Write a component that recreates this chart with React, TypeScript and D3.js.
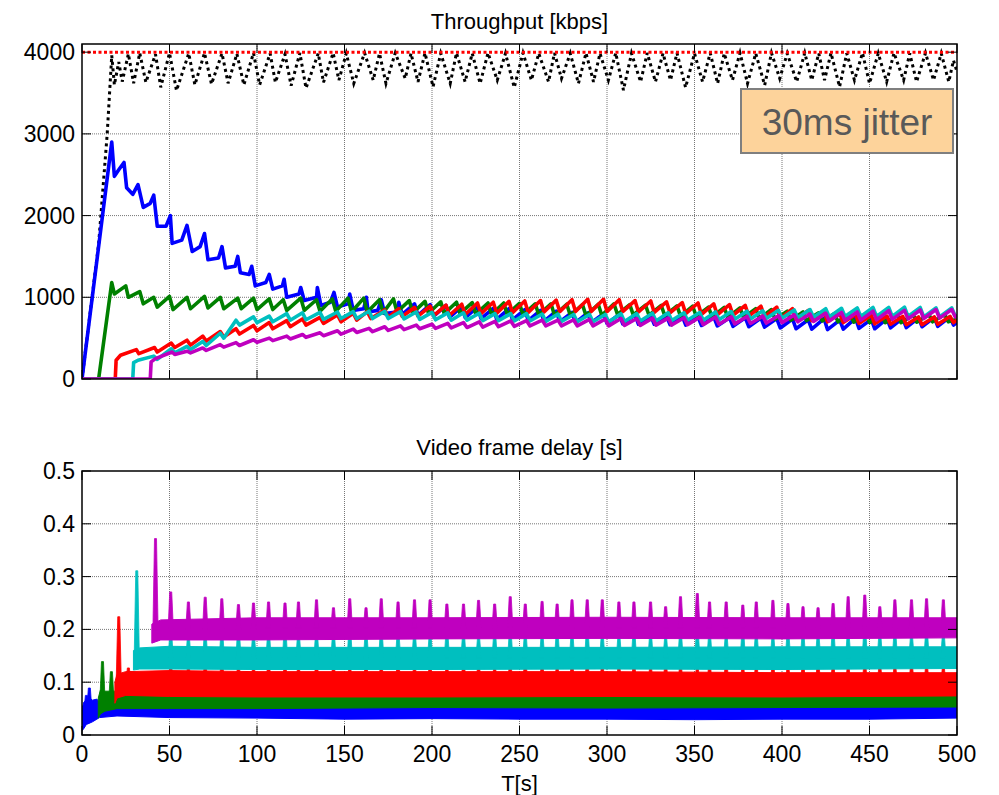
import React from 'react';
import * as d3 from 'd3';

// ---------- axes / ticks ----------
const X_TICKS = [0, 50, 100, 150, 200, 250, 300, 350, 400, 450, 500];
const TOP_Y_TICKS = [0, 1000, 2000, 3000, 4000];
const BOT_Y_TICKS = [0, 0.1, 0.2, 0.3, 0.4, 0.5];
const BOT_Y_LABELS = ['0', '0.1', '0.2', '0.3', '0.4', '0.5'];
const TOP_TITLE = 'Throughput [kbps]';
const BOT_TITLE = 'Video frame delay [s]';
const X_LABEL = 'T[s]';
const NOTE = '30ms jitter';

// ---------- throughput (kbps) : [t, value] ----------
const capacity: [number, number][] = [[0, 4000], [500, 4000]];

const total: [number, number][] = [[0,0],[9.5,1650],[14.4,3000],[17,3960],[18.5,3600],[21,3880],[23,3640],[26.5,3980],[29.5,3620],[33,3990],[36.5,3630],[42,3975],[45,3570],[50,3990],[54,3530],[61,3985],[64.5,3600],[70,3990],[74,3610],[80,3985],[83.5,3620],[88.5,3980],[92.5,3600],[98,3990],[101.5,3600],[107.5,3985],[110.5,3630],[116,3975],[119.5,3590],[124.5,3990],[128,3560],[135,3985],[138,3630],[143.5,3990],[146.8,3657],[151,3985],[155.3,3617],[161.5,3990],[166.4,3657],[170,3985],[173.7,3617],[179,3990],[184.7,3678],[188,3985],[192,3637],[196,3990],[200.6,3576],[205,3985],[210.4,3617],[214,3990],[218.9,3637],[223,3985],[227.5,3617],[232,3990],[237.3,3657],[242,3985],[247,3568],[252,3990],[256.8,3657],[261,3985],[266.6,3637],[270,3990],[274,3678],[279,3985],[283.7,3617],[288,3990],[292.3,3637],[296,3985],[300.8,3657],[305,3990],[309.4,3535],[314,3985],[319.2,3637],[323,3990],[327.7,3637],[332,3985],[336.3,3657],[340,3990],[344.9,3568],[350,3985],[354.6,3637],[359,3990],[363.2,3617],[367,3985],[371.7,3657],[376,3990],[380.3,3617],[385,3985],[390.1,3596],[394,3990],[398.7,3678],[403,3985],[408.4,3637],[413,3990],[417,3657],[421,3985],[424.3,3657],[428,3990],[432.9,3576],[437,3985],[441.4,3657],[446,3990],[450,3617],[455,3985],[459.8,3637],[464,3990],[469.5,3657],[473,3985],[476.9,3637],[482,3990],[486.6,3657],[491,3985],[495.3,3637],[498,3900],[500,3760]];

const blueTp: [number, number][] = [[0,0],[17,2900],[18.5,2480],[21,2560],[24,2650],[25.5,2340],[29,2260],[32,2380],[35,2100],[39,2150],[41,2250],[43,1870],[48,1870],[50.5,2000],[51.5,1660],[57,1700],[60,1880],[63,1560],[67.5,1620],[70,1780],[72,1460],[78,1480],[80,1620],[82,1360],[87.5,1380],[89,1500],[90.5,1300],[95.5,1280],[97,1380],[99,1140],[105,1180],[107,1280],[109,1100],[114.5,1140],[115.5,1220],[117,1000],[124,1040],[125,1120],[127,960],[134,1000],[134.5,1120],[136.5,900],[142,940],[144,1060],[146,880],[152,920],[153,1040],[155,840],[161,860],[162.5,1000],[163.5,820],[169,840],[171,970],[173,800],[180,820],[181,940],[183,790],[190,920],[192,780],[199,910],[201,770],[208,900],[210,755],[217,885],[219,750],[226,880],[228,740],[235,865],[237,730],[244,860],[246,725],[253,850],[255,715],[262,840],[264,705],[271,830],[273,700],[280,815],[282,690],[289,810],[291,690],[298,800],[300,680],[307,790],[309,675],[316,785],[318,670],[325,775],[327,670],[334,770],[336,665],[343,770],[345,660],[352,760],[354,655],[361,760],[363,650],[370,750],[372,645],[379,750],[381,640],[388,745],[390,635],[397,740],[399,625],[406,735],[408,615],[415,725],[417,610],[424,740],[426,605],[433,720],[435,610],[442,745],[444,620],[451,730],[453,615],[460,740],[462,625],[469,745],[471,630],[478,750],[480,640],[487,755],[489,645],[496,760],[498,660],[500,690]];

const greenTp: [number, number][] = [[0,0],[9.5,0],[17,1180],[18.5,1040],[25,1140],[26.5,1000],[33,1070],[35,920],[41,1000],[43,880],[50,1010],[52,850],[60,1000],[62,860],[70,1010],[72,870],[79,1000],[81,860],[89,990],[91,860],[98,990],[100,850],[107,980],[109,850],[115,970],[117,840],[125,990],[127,840],[134,970],[136,830],[143,980],[145,830],[152,990],[154,820],[161,990],[163,820],[170,970],[172,810],[178,980],[180,820],[187,960],[189,810],[196,950],[198,805],[205,945],[207,800],[214,940],[216,800],[223,935],[225,795],[232,930],[234,790],[241,930],[243,790],[250,925],[252,785],[259,920],[261,785],[268,920],[270,780],[277,915],[279,780],[286,910],[288,775],[295,915],[297,780],[304,920],[306,790],[313,910],[315,785],[322,905],[324,780],[331,900],[333,775],[340,895],[342,770],[349,890],[351,765],[358,880],[360,760],[367,875],[369,755],[376,870],[378,750],[385,860],[387,740],[394,850],[396,730],[403,830],[405,720],[412,820],[414,715],[421,810],[423,710],[430,800],[432,700],[439,790],[441,695],[448,790],[450,690],[457,780],[459,690],[466,780],[468,690],[475,785],[477,695],[484,790],[486,700],[493,790],[495,700],[500,730]];

const redTp: [number, number][] = [[0,0],[19,0],[19.5,230],[22,290],[31,360],[32.5,310],[41.5,385],[43,330],[51,440],[53,385],[60,475],[62,415],[69,525],[71,465],[79,580],[81,515],[88,615],[90,550],[98,655],[100,590],[107,690],[109,615],[117,715],[119,640],[126,735],[128,660],[136,755],[138,680],[146,785],[148,700],[155,805],[157,720],[163,825],[165,740],[173,845],[175,755],[181,860],[183,765],[190,875],[192,770],[199,890],[201,775],[208,905],[210,780],[217,915],[219,790],[226,930],[228,800],[235,940],[237,805],[244,950],[246,810],[253,955],[255,815],[262,960],[264,820],[271,965],[273,825],[280,970],[282,825],[289,975],[291,825],[298,975],[300,825],[307,970],[309,825],[316,960],[318,820],[325,955],[327,815],[334,945],[336,810],[343,935],[345,800],[352,930],[354,790],[361,920],[363,785],[370,910],[372,780],[379,900],[381,770],[388,890],[390,760],[397,880],[399,740],[406,860],[408,730],[415,840],[417,715],[424,820],[426,700],[433,800],[435,690],[442,790],[444,680],[451,780],[453,675],[460,770],[462,670],[469,765],[471,665],[478,760],[480,665],[487,760],[489,670],[496,765],[498,690],[500,720]];

const cyanTp: [number, number][] = [[0,0],[29,0],[29.5,200],[32,230],[41,280],[43,240],[51,370],[53,320],[60,400],[62,360],[69,460],[71,410],[79,560],[81,500],[88,720],[90,660],[98,760],[100,690],[107,770],[109,700],[117,800],[119,720],[126,810],[128,725],[136,815],[138,730],[146,820],[148,740],[155,825],[157,740],[164,830],[166,740],[173,830],[175,740],[182,825],[184,735],[191,820],[193,730],[200,815],[202,725],[209,810],[211,720],[218,810],[220,720],[227,805],[229,715],[236,800],[238,715],[245,800],[247,710],[254,800],[256,710],[263,795],[265,705],[272,795],[274,705],[281,790],[283,700],[290,790],[292,700],[299,790],[301,700],[308,800],[310,705],[317,800],[319,710],[326,805],[328,710],[335,810],[337,715],[344,810],[346,720],[353,815],[355,720],[362,820],[364,725],[371,825],[373,730],[380,830],[382,735],[389,835],[391,740],[398,840],[400,745],[407,845],[409,750],[416,850],[418,755],[425,860],[427,760],[434,865],[436,765],[443,870],[445,765],[452,875],[454,765],[461,875],[463,765],[470,880],[472,765],[479,875],[481,760],[488,870],[490,760],[497,870],[499,770],[500,790]];

const magentaTp: [number, number][] = [[0,0],[39,0],[39.5,210],[42,250],[51.5,330],[53,300],[60,340],[62,320],[69,380],[71,350],[79,420],[81,390],[88,445],[90,410],[98,480],[100,450],[107,500],[109,470],[117,525],[119,490],[126,545],[128,510],[136,565],[138,530],[146,590],[148,550],[155,610],[157,570],[164,620],[166,580],[173,640],[175,595],[182,650],[184,605],[191,660],[193,615],[200,670],[202,620],[209,680],[211,625],[218,690],[220,630],[227,700],[229,635],[236,705],[238,640],[245,710],[247,645],[254,715],[256,650],[263,720],[265,650],[272,720],[274,650],[281,725],[283,650],[290,730],[292,650],[299,735],[301,650],[308,740],[310,655],[317,740],[319,655],[326,745],[328,660],[335,745],[337,660],[344,750],[346,665],[353,755],[355,665],[362,760],[364,670],[371,760],[373,675],[380,765],[382,680],[389,770],[391,685],[398,775],[400,690],[407,785],[409,700],[416,795],[418,705],[425,805],[427,710],[434,815],[436,715],[443,820],[445,720],[452,830],[454,725],[461,835],[463,730],[470,840],[472,735],[479,845],[481,740],[488,850],[490,745],[497,850],[499,760],[500,780]];

// ---------- frame delay (s) : bands [t, low, high] ----------
const blueBand: [number, number, number][] = [[0,0.008,0.05],[1,0.012,0.062],[2.5,0.02,0.066],[4,0.022,0.07],[6,0.025,0.066],[8.5,0.03,0.068],[10,0.033,0.062],[20,0.036,0.062],[50,0.033,0.06],[100,0.032,0.06],[150,0.03,0.058],[200,0.031,0.058],[250,0.03,0.057],[300,0.03,0.058],[350,0.029,0.056],[400,0.03,0.057],[450,0.03,0.056],[500,0.032,0.058]];
const greenBand: [number, number, number][] = [[9.3,0.032,0.07],[10.5,0.04,0.085],[13,0.045,0.083],[20,0.05,0.083],[50,0.05,0.084],[100,0.05,0.084],[200,0.052,0.083],[300,0.051,0.083],[400,0.052,0.082],[500,0.053,0.082]];
const redBand: [number, number, number][] = [[18.8,0.06,0.1],[20,0.07,0.115],[25,0.075,0.12],[50,0.073,0.122],[100,0.072,0.12],[200,0.072,0.12],[300,0.073,0.12],[400,0.072,0.118],[500,0.074,0.118]];
const cyanBand: [number, number, number][] = [[29.4,0.123,0.16],[33,0.125,0.165],[50,0.125,0.168],[100,0.124,0.166],[200,0.124,0.166],[300,0.125,0.166],[400,0.124,0.167],[500,0.126,0.167]];
const magentaBand: [number, number, number][] = [[39.9,0.174,0.21],[45,0.18,0.218],[100,0.18,0.222],[200,0.182,0.222],[300,0.183,0.223],[400,0.182,0.222],[500,0.184,0.222]];

// start-up spikes [t, value]
const blueStart: [number, number][] = [[2.5,0.075],[4.2,0.089]];
const greenStart: [number, number][] = [[11.7,0.139],[16.8,0.12]];
const redStart: [number, number][] = [[21,0.224],[26.5,0.127]];
const cyanStart: [number, number][] = [[31.3,0.311]];
const magentaStart: [number, number][] = [[42,0.372]];

// periodic spikes (shared times) and their peak values per flow
const spikeTimes = [50.7,60.8,70.4,79.9,89.4,98,106.6,116,123.7,134,143.7,153,162.3,171,180.6,190,198.9,208.5,218,226.6,235.8,244.7,253.3,262.9,271.5,280,288.7,297.3,306.8,315.4,324.9,333.5,342,351.6,358.6,368.1,377.6,385.3,394.8,403.4,412,420.6,429.2,437.8,447.3,455.9,464.5,474,482.6,492.2];
const magentaSpikes = [0.271,0.252,0.261,0.258,0.247,0.25,0.252,0.25,0.252,0.256,0.241,0.258,0.241,0.258,0.252,0.256,0.256,0.248,0.248,0.255,0.248,0.262,0.248,0.253,0.248,0.256,0.256,0.256,0.252,0.252,0.252,0.243,0.262,0.268,0.252,0.252,0.246,0.252,0.255,0.249,0.243,0.241,0.249,0.262,0.265,0.243,0.256,0.256,0.258,0.256];
const cyanSpikes = [0.192,0.186,0.19,0.192,0.195,0.189,0.192,0.198,0.189,0.192,0.192,0.198,0.192,0.195,0.192,0.19,0.188,0.194,0.19,0.186,0.192,0.195,0.19,0.188,0.193,0.19,0.196,0.19,0.188,0.194,0.19,0.185,0.193,0.196,0.19,0.188,0.194,0.19,0.186,0.192,0.19,0.188,0.195,0.19,0.198,0.19,0.192,0.188,0.194,0.19];
const redSpikes = [0.13,0.128,0.132,0.135,0.13,0.128,0.133,0.13,0.127,0.134,0.13,0.128,0.132,0.13,0.136,0.129,0.131,0.128,0.133,0.13,0.127,0.132,0.135,0.13,0.128,0.131,0.134,0.129,0.13,0.132,0.128,0.133,0.13,0.127,0.131,0.135,0.129,0.13,0.132,0.128,0.131,0.133,0.13,0.128,0.134,0.13,0.129,0.132,0.13,0.128];
const greenSpikes = [0.092,0.09,0.094,0.089,0.091,0.093,0.09,0.088,0.092,0.095,0.09,0.089,0.093,0.091,0.09,0.094,0.089,0.092,0.09,0.091,0.093,0.088,0.092,0.09,0.094,0.091,0.089,0.093,0.09,0.092,0.091,0.088,0.094,0.09,0.092,0.089,0.093,0.091,0.09,0.092,0.094,0.089,0.091,0.093,0.09,0.092,0.088,0.091,0.093,0.09];
const blueSpikes = [0.066,0.068,0.065,0.07,0.066,0.064,0.069,0.067,0.065,0.068,0.066,0.07,0.064,0.067,0.066,0.069,0.065,0.068,0.066,0.064,0.07,0.067,0.065,0.068,0.066,0.069,0.064,0.067,0.066,0.068,0.065,0.07,0.066,0.067,0.064,0.068,0.066,0.069,0.065,0.067,0.066,0.068,0.064,0.07,0.066,0.067,0.065,0.068,0.066,0.067];

const BLUE = '#0000ff', GREEN = '#008000', RED = '#ff0000', CYAN = '#00bfbf', MAGENTA = '#bf00bf';
const FONT = "'Liberation Sans', Arial, Helvetica, sans-serif";

// layout
const L = 82, R = 957;
const T1 = 44, B1 = 379;
const T2 = 471, B2 = 735;
const TICK = 9;
const TICK_FONT = 23;

const xS = d3.scaleLinear().domain([0, 500]).range([L, R]);
const yTop = d3.scaleLinear().domain([0, 4100]).range([B1, T1]);
const yBot = d3.scaleLinear().domain([0, 0.5]).range([B2, T2]);

const topLine = d3.line<[number, number]>().x(d => xS(d[0])).y(d => yTop(d[1]));
const band = d3.area<[number, number, number]>().x(d => xS(d[0])).y0(d => yBot(d[1])).y1(d => yBot(d[2]));

function spikePath(bandData: [number, number, number][], t: number, v: number) {
  const bis = d3.bisector((d: [number, number, number]) => d[0]).left;
  let i = bis(bandData, t);
  if (i >= bandData.length) i = bandData.length - 1;
  const b = bandData[i];
  const base = yBot((b[1] + b[2]) / 2);
  const tip = yBot(v);
  const x = xS(t);
  return `M${x - 2.6},${base}L${x - 1},${tip}L${x + 1},${tip}L${x + 2.6},${base}Z`;
}

function Grid({ top, bottom, yScale, yTicks }: any) {
  return (
    <g>
      {X_TICKS.slice(1, -1).map(t => (
        <line key={'gx' + t} x1={xS(t)} x2={xS(t)} y1={top} y2={bottom} stroke="#777" strokeWidth={1} strokeDasharray="1,1" />
      ))}
      {yTicks.slice(1, -1).map((t: number) => (
        <line key={'gy' + t} x1={L} x2={R} y1={yScale(t)} y2={yScale(t)} stroke="#777" strokeWidth={1} strokeDasharray="1,1" />
      ))}
    </g>
  );
}

function Axes({ top, bottom, yScale, yTicks, yLabels, showX }: any) {
  return (
    <g>
      <rect x={L} y={top} width={R - L} height={bottom - top} fill="none" stroke="#000" strokeWidth={1.5} />
      {X_TICKS.map(t => (
        <g key={'tx' + t}>
          <line x1={xS(t)} x2={xS(t)} y1={bottom} y2={bottom - TICK} stroke="#000" strokeWidth={1} />
          <line x1={xS(t)} x2={xS(t)} y1={top} y2={top + TICK} stroke="#000" strokeWidth={1} />
          {showX && (
            <text x={xS(t)} y={B2 + 27} textAnchor="middle" fontSize={TICK_FONT} fontFamily={FONT} fill="#000">{t}</text>
          )}
        </g>
      ))}
      {yTicks.map((t: number, i: number) => (
        <g key={'ty' + t}>
          <line x1={L} x2={L + TICK} y1={yScale(t)} y2={yScale(t)} stroke="#000" strokeWidth={1} />
          <line x1={R} x2={R - TICK} y1={yScale(t)} y2={yScale(t)} stroke="#000" strokeWidth={1} />
          <text x={75} y={yScale(t) + 8} textAnchor="end" fontSize={TICK_FONT} fontFamily={FONT} fill="#000">{yLabels[i]}</text>
        </g>
      ))}
    </g>
  );
}

export default function App() {
  const topSeries: [[number, number][], string][] = [
    [blueTp, BLUE], [greenTp, GREEN], [redTp, RED], [cyanTp, CYAN], [magentaTp, MAGENTA],
  ];
  const botSeries: [[number, number, number][], [number, number][], number[], string][] = [
    [blueBand, blueStart, blueSpikes, BLUE],
    [greenBand, greenStart, greenSpikes, GREEN],
    [redBand, redStart, redSpikes, RED],
    [cyanBand, cyanStart, cyanSpikes, CYAN],
    [magentaBand, magentaStart, magentaSpikes, MAGENTA],
  ];
  return (
    <svg width={999} height={795} style={{ position: 'absolute', left: 0, top: 0, background: '#fff' }}>
      <defs>
        <clipPath id="clipTop"><rect x={L} y={T1} width={R - L} height={B1 - T1} /></clipPath>
        <clipPath id="clipBot"><rect x={L} y={T2} width={R - L} height={B2 - T2} /></clipPath>
      </defs>
      <rect x={0} y={0} width={999} height={795} fill="#fff" />

      {/* ---------- top panel ---------- */}
      <Grid top={T1} bottom={B1} yScale={yTop} yTicks={TOP_Y_TICKS} />
      <g clipPath="url(#clipTop)">
        <path d={topLine(total) || ''} fill="none" stroke="#000" strokeWidth={3} strokeDasharray="3,3.5" />
        {topSeries.map(([data, color], i) => (
          <path key={i} d={topLine(data) || ''} fill="none" stroke={color} strokeWidth={3.6} strokeLinejoin="round" />
        ))}
        <path d={topLine(capacity) || ''} fill="none" stroke={RED} strokeWidth={3} strokeDasharray="3,2.5" />
      </g>
      <Axes top={T1} bottom={B1} yScale={yTop} yTicks={TOP_Y_TICKS} yLabels={TOP_Y_TICKS.map(String)} showX={false} />
      <text x={(L + R) / 2} y={29} textAnchor="middle" fontSize={22} fontFamily={FONT} fill="#000">{TOP_TITLE}</text>

      {/* annotation */}
      <rect x={741} y={89} width={212} height={64} fill="#fdd39b" stroke="#7f7f7f" strokeWidth={2} />
      <text x={847} y={135} textAnchor="middle" fontSize={37} fontFamily={FONT} fill="#595959">{NOTE}</text>

      {/* ---------- bottom panel ---------- */}
      <Grid top={T2} bottom={B2} yScale={yBot} yTicks={BOT_Y_TICKS} />
      <g clipPath="url(#clipBot)">
        {botSeries.map(([bd, starts, spikes, color], i) => (
          <g key={i}>
            <path d={band(bd) || ''} fill={color} stroke={color} strokeWidth={1} />
            {starts.map(([t, v], j) => (
              <path key={'s' + j} d={spikePath(bd, t, v)} fill={color} stroke={color} strokeWidth={0.8} />
            ))}
            {spikeTimes.map((t, j) => (
              <path key={'p' + j} d={spikePath(bd, t, spikes[j])} fill={color} stroke={color} strokeWidth={0.8} />
            ))}
          </g>
        ))}
      </g>
      <Axes top={T2} bottom={B2} yScale={yBot} yTicks={BOT_Y_TICKS} yLabels={BOT_Y_LABELS} showX={true} />
      <text x={(L + R) / 2} y={455} textAnchor="middle" fontSize={22} fontFamily={FONT} fill="#000">{BOT_TITLE}</text>
      <text x={(L + R) / 2} y={791} textAnchor="middle" fontSize={22} fontFamily={FONT} fill="#000">{X_LABEL}</text>
    </svg>
  );
}
